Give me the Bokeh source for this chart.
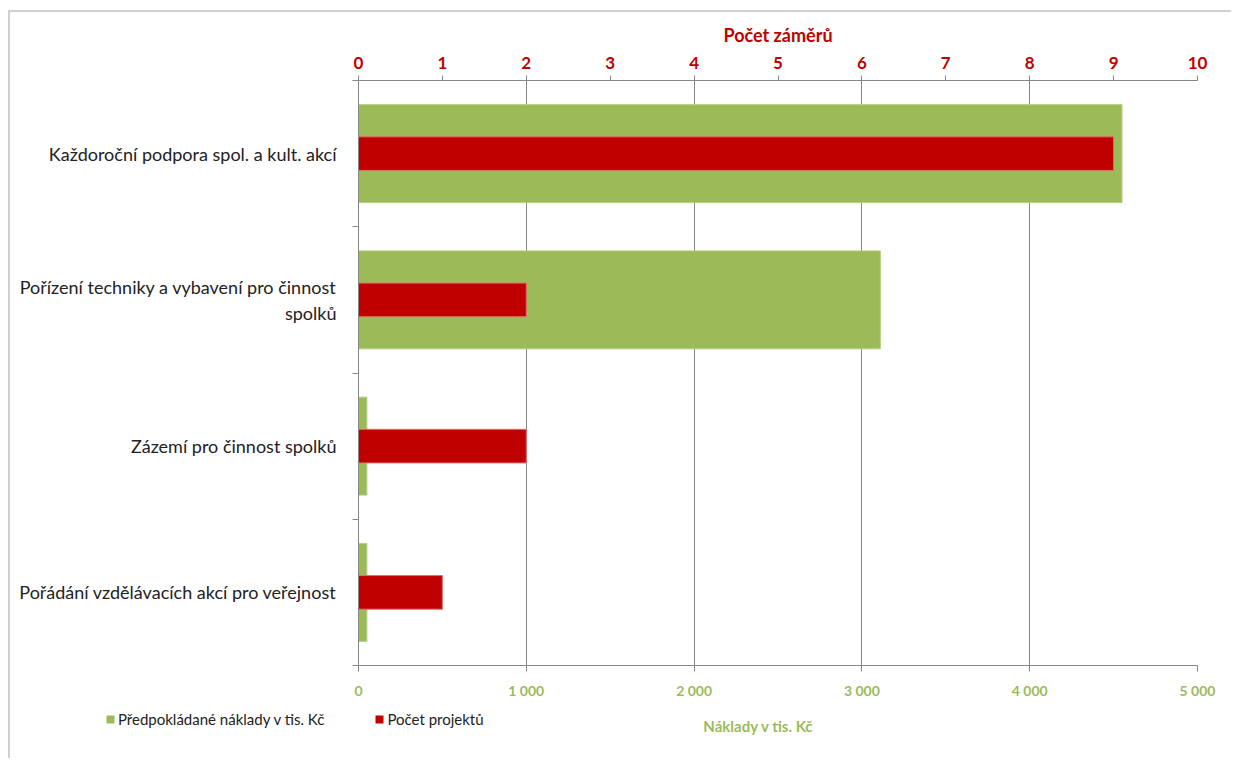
from bokeh.plotting import figure
from bokeh.models import (Range1d, LinearAxis, FixedTicker, Legend, LegendItem,
                          ColumnDataSource, Label)
from bokeh.layouts import column
from bokeh.embed import file_html
from bokeh.resources import INLINE

# ---------------- data ----------------
categories = [
    "Každoroční podpora spol. a kult. akcí",
    "Pořízení techniky a vybavení pro činnost\nspolků",
    "Zázemí pro činnost spolků",
    "Pořádání vzdělávacích akcí pro veřejnost",
]
naklady = [4550, 3110, 50, 50]          # Předpokládané náklady v tis. Kč
pocet = [9, 2, 2, 1]                    # Počet projektů
series_names = ["Předpokládané náklady v tis. Kč", "Počet projektů"]
bottom_title = "Náklady v tis. Kč"
top_title = "Počet záměrů"
bottom_ticks = [0, 1000, 2000, 3000, 4000, 5000]
top_ticks = list(range(0, 11))

GREEN = "#9BBB59"
RED = "#C00000"
GRAY = "#868686"
FONT = "Lato"
W = 1221

n = len(categories)
ypos = [n - 0.5 - i for i in range(n)]
src = ColumnDataSource(dict(y=ypos, naklady=naklady, pocet=pocet))

p = figure(width=W, height=693, output_backend="svg", toolbar_location=None,
           x_range=Range1d(0, 5000), y_range=Range1d(0, n),
           min_border_left=348, min_border_right=W - 1187, min_border_top=68,
           min_border_bottom=40, outline_line_color=None)
p.frame_align = False
p.extra_x_ranges = {"top": Range1d(0, 10)}

g = p.hbar(y="y", right="naklady", left=0, height=0.67, source=src,
           fill_color=GREEN, line_color="#B5CD85", line_width=1)
r = p.hbar(y="y", right="pocet", left=0, height=0.23, source=src,
           fill_color=RED, line_color="#E07070", line_width=1, x_range_name="top")

# bottom axis
ax = p.xaxis[0]
ax.ticker = FixedTicker(ticks=bottom_ticks)
ax.major_label_overrides = {t: f"{t:,}".replace(",", " ") for t in bottom_ticks}
ax.major_label_text_color = GREEN
ax.major_label_text_font = FONT
ax.major_label_text_font_style = "bold"
ax.major_label_text_font_size = "14px"
ax.axis_line_color = GRAY
ax.major_tick_line_color = GRAY
ax.major_tick_out = 6
ax.major_tick_in = 0
ax.minor_tick_line_color = None
ax.major_label_standoff = 10

# top axis
ta = LinearAxis(x_range_name="top", ticker=FixedTicker(ticks=top_ticks),
                axis_label=top_title)
ta.axis_label_text_color = RED
ta.major_label_text_color = RED
ta.axis_label_text_font = FONT
ta.axis_label_text_font_style = "bold"
ta.axis_label_text_font_size = "18px"
ta.major_label_text_font = FONT
ta.major_label_text_font_style = "bold"
ta.major_label_text_font_size = "17px"
ta.axis_line_color = GRAY
ta.major_tick_line_color = GRAY
ta.major_tick_out = 5
ta.major_tick_in = 0
ta.minor_tick_line_color = None
ta.major_label_standoff = 7
ta.axis_label_standoff = 8
p.add_layout(ta, "above")

# left axis (categories)
ya = p.yaxis[0]
ya.ticker = FixedTicker(ticks=ypos, minor_ticks=list(range(0, n + 1)))
ya.major_label_overrides = {y: c for y, c in zip(ypos, categories)}
ya.major_label_text_font = FONT
ya.major_label_text_font_size = "18px"
ya.major_label_text_color = "#222222"
ya.major_tick_line_color = None
ya.major_tick_out = 0
ya.minor_tick_line_color = GRAY
ya.minor_tick_out = 6
ya.minor_tick_in = 0
ya.axis_line_color = GRAY
ya.major_label_standoff = 16

p.xgrid.grid_line_color = GRAY
p.xgrid.grid_line_width = 1
p.ygrid.grid_line_color = None

# ---------- legend strip with the bottom axis title ----------
p2 = figure(width=W, height=53, output_backend="svg", toolbar_location=None,
            x_range=Range1d(0, 5000), y_range=Range1d(0, n),
            min_border=0, outline_line_color=None)
p2.frame_align = False
p2.axis.visible = False
p2.grid.visible = False
lg = p2.hbar(y="y", right="naklady", left=0, height=0.67, source=src,
             fill_color=GREEN, line_color=None, visible=False)
lr = p2.hbar(y="y", right="naklady", left=0, height=0.23, source=src,
             fill_color=RED, line_color=None, visible=False)
legend = Legend(items=[LegendItem(label=series_names[0], renderers=[lg]),
                       LegendItem(label=series_names[1], renderers=[lr])],
                orientation="horizontal", location=(95, 30),
                glyph_width=10, glyph_height=10, label_text_font=FONT,
                label_text_font_size="15px", label_text_color="#222222",
                spacing=50, padding=0, margin=0, label_standoff=3,
                border_line_color=None, background_fill_alpha=0,
                inactive_fill_alpha=0)
p2.add_layout(legend, "center")
p2.add_layout(Label(x=748, y=33, x_units="screen", y_units="screen", text=bottom_title,
                    text_align="center", text_baseline="middle", text_font=FONT,
                    text_font_style="bold", text_font_size="15px", text_color=GREEN))

layout = column(p, p2, spacing=0,
                styles={"margin-left": "8px", "margin-top": "10px",
                        "border-left": "2px solid #D0D0D0",
                        "border-top": "2px solid #D0D0D0"})

open("out.html", "w").write(file_html(layout, INLINE))
